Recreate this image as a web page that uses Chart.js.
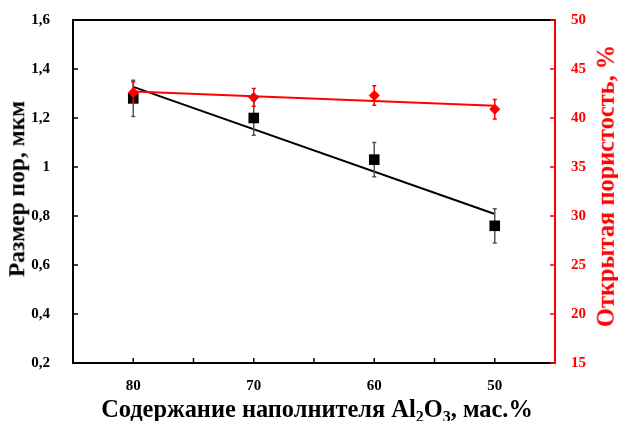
<!DOCTYPE html>
<html lang="ru">
<head>
<meta charset="utf-8">
<script src="https://cdn.jsdelivr.net/npm/chart.js@4/dist/chart.umd.min.js"></script>
<style>
  html, body { margin: 0; padding: 0; background: #fff; }
  #wrap { position: relative; width: 618px; height: 421px; }
  #chart { position: absolute; left: 0; top: 0; }
  .ttl {
    position: absolute; white-space: nowrap;
    font-family: "Liberation Serif", "Times New Roman", serif;
    font-weight: bold; font-size: 24.4px; line-height: 1;
    transform: translate(-50%, -50%);
  }
  .ttl.rot { transform: translate(-50%, -50%) rotate(-90deg); }
  .ttl sub { font-size: 16px; vertical-align: -5px; line-height: 0; }
</style>
</head>
<body>
<div id="wrap">
  <canvas id="chart" width="618" height="421"></canvas>
  <div class="ttl rot" style="left:17px; top:189px; font-size:23.5px;">Размер пор, мкм</div>
  <div class="ttl rot" style="left:606px; top:186px; color:#ff0000;">Открытая пористость, %</div>
  <div class="ttl" style="left:317px; top:409px;">Содержание наполнителя Al<sub>2</sub>O<sub>3</sub>, мас.%</div>
</div>
<script>
  "use strict";
  // содержание Al2O3, мас.%
  const alumina = [80, 70, 60, 50];
  // размер пор, мкм (левая ось)
  const poreSize = [1.28, 1.20, 1.03, 0.76];
  const poreSizeErr = [0.074, 0.07, 0.07, 0.07];
  // открытая пористость, % (правая ось)
  const porosity = [42.6, 42.1, 42.3, 40.9];
  const porosityErr = [1.1, 0.9, 1.0, 1.0];
  // линии тренда: концы при 80 и 50 мас.%
  const trendX = [80, 50];
  const poreTrend = [1.327, 0.808];
  const porosityTrend = [42.7, 41.25];
  // шкалы
  const xRange = [45, 85];
  const poreRange = [0.2, 1.6];
  const porosityRange = [15, 50];

  const RED = "#ff0000";
  const FONT = { family: "'Liberation Serif', 'Times New Roman', serif", weight: "bold", size: 15 };
  const pts = (xs, ys) => xs.map((x, i) => ({ x, y: ys[i] }));
  const comma = (v) => String(Math.round(v * 10) / 10).replace(".", ",");

  // усы погрешностей рисуются под маркерами своего набора
  const errorBars = {
    id: "errorBars",
    beforeDatasetDraw(chart, args) {
      const ds = chart.data.datasets[args.index];
      if (!ds.errors) return;
      const { ctx, scales } = chart;
      const ys = scales[ds.yAxisID];
      ctx.save();
      ctx.strokeStyle = ds.errorColor;
      ctx.lineWidth = 1.5;
      ds.data.forEach((p, i) => {
        const x = scales.x.getPixelForValue(p.x);
        const top = ys.getPixelForValue(p.y + ds.errors[i]);
        const bot = ys.getPixelForValue(p.y - ds.errors[i]);
        ctx.beginPath();
        ctx.moveTo(x, top); ctx.lineTo(x, bot);
        ctx.moveTo(x - 2, top); ctx.lineTo(x + 2, top);
        ctx.moveTo(x - 2, bot); ctx.lineTo(x + 2, bot);
        ctx.stroke();
      });
      ctx.restore();
    },
  };

  // рамка сверху и засечки внутрь области графика
  const frame = {
    id: "frame",
    afterDraw(chart) {
      const { ctx, chartArea: a, scales } = chart;
      ctx.save();
      ctx.lineWidth = 2;
      ctx.strokeStyle = "#000";
      ctx.beginPath();
      ctx.moveTo(a.left, a.top); ctx.lineTo(a.right, a.top);
      ctx.stroke();
      ctx.lineWidth = 1.5;
      ctx.beginPath();
      scales.x.ticks.forEach((t) => {
        const x = scales.x.getPixelForValue(t.value);
        if (x <= a.left + 1 || x >= a.right - 1) return;
        ctx.moveTo(x, a.bottom); ctx.lineTo(x, a.bottom - 5);
      });
      scales.y.ticks.forEach((t) => {
        const y = scales.y.getPixelForValue(t.value);
        ctx.moveTo(a.left, y); ctx.lineTo(a.left + 5, y);
      });
      ctx.stroke();
      ctx.strokeStyle = RED;
      ctx.beginPath();
      scales.y1.ticks.forEach((t) => {
        const y = scales.y1.getPixelForValue(t.value);
        ctx.moveTo(a.right, y); ctx.lineTo(a.right - 5, y);
      });
      ctx.stroke();
      ctx.restore();
    },
  };

  // фиксированные размеры осей, без запаса под подписи сверху/снизу
  const fixWidth = (w) => (s) => { s.width = w; s.paddingTop = 0; s.paddingBottom = 0; };

  new Chart(document.getElementById("chart"), {
    type: "scatter",
    data: {
      datasets: [
        {
          data: pts(alumina, porosity), yAxisID: "y1",
          errors: porosityErr, errorColor: RED,
          pointStyle: "rectRot", pointRadius: 5, pointBorderWidth: 1,
          backgroundColor: RED, borderColor: RED,
        },
        {
          type: "line", data: pts(trendX, porosityTrend), yAxisID: "y1",
          borderColor: RED, borderWidth: 2, pointRadius: 0, fill: false,
        },
        {
          data: pts(alumina, poreSize), yAxisID: "y",
          errors: poreSizeErr, errorColor: "#555",
          pointStyle: "rect", pointRadius: 7.5, pointBorderWidth: 0,
          backgroundColor: "#000", borderColor: "#000",
        },
        {
          type: "line", data: pts(trendX, poreTrend), yAxisID: "y",
          borderColor: "#000", borderWidth: 2, pointRadius: 0, fill: false,
        },
      ],
    },
    options: {
      responsive: false,
      animation: false,
      devicePixelRatio: 1,
      layout: { padding: { top: 20, left: 0, right: 0, bottom: 0 } },
      plugins: { legend: { display: false }, tooltip: { enabled: false } },
      scales: {
        x: {
          type: "linear", reverse: true, min: xRange[0], max: xRange[1],
          grid: { display: false, drawTicks: false },
          border: { display: true, color: "#000", width: 2 },
          ticks: {
            stepSize: 5, padding: 14, color: "#000", font: FONT, maxRotation: 0,
            callback: (v) => (v % 10 === 0 && v > xRange[0] && v < xRange[1] ? v : ""),
          },
          afterFit: (s) => { s.height = 58; s.paddingLeft = 0; s.paddingRight = 0; },
        },
        y: {
          position: "left", min: poreRange[0], max: poreRange[1],
          grid: { display: false, drawTicks: false },
          border: { display: true, color: "#000", width: 2 },
          ticks: { stepSize: 0.2, padding: 23, color: "#000", font: FONT, callback: comma },
          afterFit: fixWidth(73),
        },
        y1: {
          position: "right", min: porosityRange[0], max: porosityRange[1],
          grid: { display: false, drawTicks: false },
          border: { display: true, color: RED, width: 2 },
          ticks: { stepSize: 5, padding: 16, color: RED, font: FONT },
          afterFit: fixWidth(63),
        },
      },
    },
    plugins: [errorBars, frame],
  });
</script>
</body>
</html>
